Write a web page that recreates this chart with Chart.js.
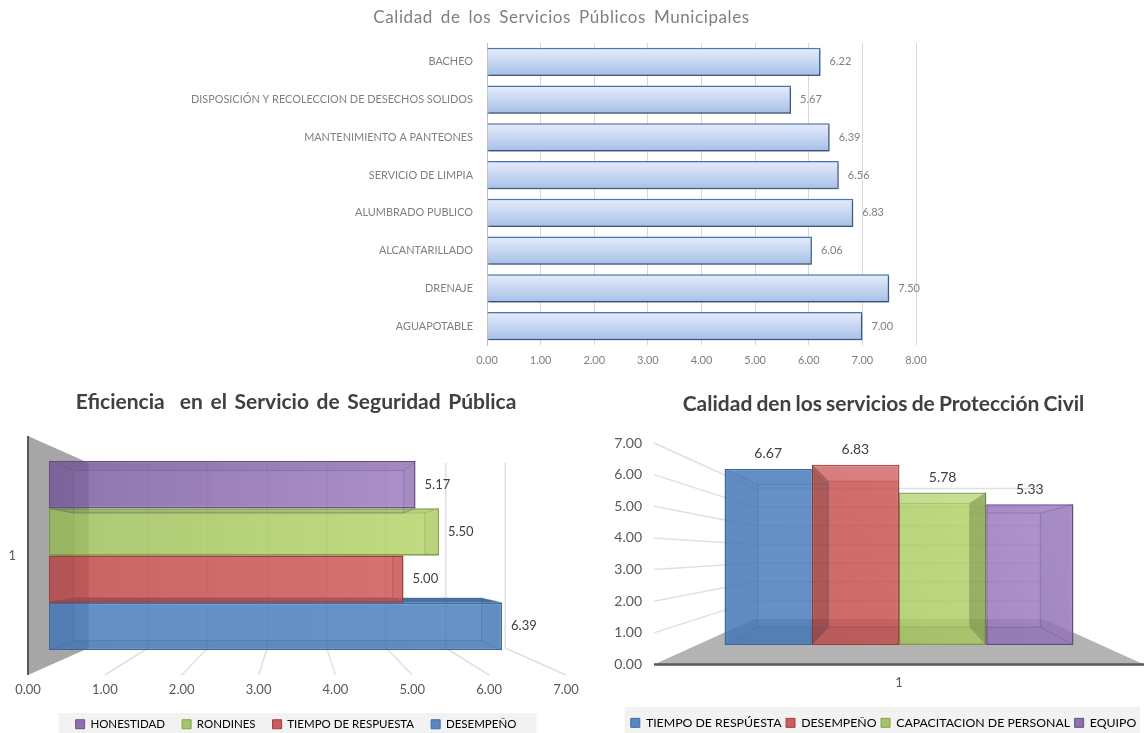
<!DOCTYPE html>
<html lang="es">
<head>
<meta charset="utf-8">
<title>Calidad de los Servicios</title>
<script src="https://cdn.jsdelivr.net/npm/chart.js@4"></script>
<style>
  html, body { margin: 0; height: 100%; overflow: hidden; background: #fff; }
  canvas { position: absolute; }
  #serviciosChart { left: 0; top: 0; }
  #seguridadChart { left: 0; top: 385px; }
  #proteccionChart { left: 600px; top: 385px; }
</style>
</head>
<body>
<canvas id="serviciosChart" width="1123" height="372"></canvas>
<canvas id="seguridadChart" width="592" height="355"></canvas>
<canvas id="proteccionChart" width="567" height="354"></canvas>
<script>
const servicios_labels = ['BACHEO', 'DISPOSICIÓN Y RECOLECCION DE DESECHOS SOLIDOS', 'MANTENIMIENTO A PANTEONES', 'SERVICIO DE LIMPIA', 'ALUMBRADO PUBLICO', 'ALCANTARILLADO', 'DRENAJE', 'AGUAPOTABLE'];
const servicios_data = [6.22, 5.67, 6.39, 6.56, 6.83, 6.06, 7.50, 7.00];

const seguridad_category = ['1'];
const seguridad_series = ['HONESTIDAD', 'RONDINES', 'TIEMPO DE RESPUESTA', 'DESEMPEÑO'];
const seguridad_data = [5.17, 5.50, 5.00, 6.39];

const proteccion_category = ['1'];
const proteccion_series = ['TIEMPO DE RESPÚESTA', 'DESEMPEÑO', 'CAPACITACION DE PERSONAL', 'EQUIPO'];
const proteccion_data = [6.67, 6.83, 5.78, 5.33];

const FONT = 'Lato, "Open Sans", sans-serif';
Chart.defaults.font.family = FONT;
Chart.defaults.animation = false;
Chart.defaults.responsive = false;

// [left colour, right colour, border, legend swatch]
const BLUE = ['rgba(72,124,188,0.85)', 'rgba(76,128,192,0.85)', '#3b6ba5', '#5b87c0'];
const RED = ['rgba(188,73,73,0.85)', 'rgba(214,96,94,0.85)', '#a83c3c', '#c85f5f'];
const GREEN = ['rgba(155,190,90,0.85)', 'rgba(190,220,113,0.85)', '#83a34e', '#a3c46a'];
const PURPLE = ['rgba(120,90,155,0.85)', 'rgba(173,138,208,0.85)', '#67508c', '#8d70ac'];

function sideGradient(c, colors, vertical) {
    const area = c.chart.chartArea;
    if (!area) return colors[0];
    const g = vertical
        ? c.chart.ctx.createLinearGradient(area.left, area.bottom, area.right, area.top)
        : c.chart.ctx.createLinearGradient(area.left, 0, area.right, 0);
    g.addColorStop(0, colors[0]);
    g.addColorStop(1, colors[1]);
    return g;
}

// keeps the space right of the plot free so title and legend stay centred on the canvas
function rightGap(width) {
    return {
        type: 'linear',
        position: 'right',
        grid: { display: false },
        border: { display: false },
        ticks: { display: false },
        afterFit(s) { s.width = width; }
    };
}

// letter and word spacing for the title only
const titleSpacing = {
    id: 'titleSpacing',
    beforeDraw(chart, args, opts) {
        const box = chart.titleBlock;
        if (box._spaced) return;
        box._spaced = true;
        const draw = box.draw;
        box.draw = function () {
            const ctx = chart.ctx;
            ctx.save();
            ctx.letterSpacing = opts.letter + 'px';
            ctx.wordSpacing = opts.word + 'px';
            draw.call(box);
            ctx.restore();
        };
    }
};

// value text next to each bar
const valueLabels = {
    id: 'valueLabels',
    afterDatasetsDraw(chart, args, opts) {
        const ctx = chart.ctx;
        ctx.save();
        ctx.font = opts.size + 'px ' + FONT;
        ctx.fillStyle = opts.color;
        ctx.textBaseline = 'middle';
        chart.data.datasets.forEach((ds, i) => {
            chart.getDatasetMeta(i).data.forEach((el, j) => {
                const text = ds.data[j].toFixed(2);
                if (chart.options.indexAxis === 'y') {
                    ctx.textAlign = 'left';
                    ctx.fillText(text, el.x + opts.gap, el.y);
                } else {
                    ctx.textAlign = 'center';
                    ctx.fillText(text, el.x, el.y - opts.gap);
                }
            });
        });
        ctx.restore();
    }
};

// pale band behind the legend
const legendBand = {
    id: 'legendBand',
    beforeDraw(chart, args, opts) {
        const boxes = chart.legend.legendHitBoxes;
        const left = boxes[0].left - opts.padLeft;
        const last = boxes[boxes.length - 1];
        const ctx = chart.ctx;
        ctx.save();
        ctx.fillStyle = '#f2f2f2';
        ctx.fillRect(left, opts.top, last.left + last.width + opts.padRight - left, opts.height);
        ctx.restore();
    }
};

// front, back and side faces of every bar, shrunk towards the vanishing point
const boxFaces = {
    id: 'boxFaces',
    afterDatasetDraw(chart, args, opts) {
        const a = chart.chartArea;
        const vx = (a.left + a.right) / 2;
        const vy = (a.top + a.bottom) / 2 + opts.shiftY;
        const back = (x, y) => [vx + opts.k * (x - vx), vy + opts.k * (y - vy)];
        const ds = chart.data.datasets[args.index];
        const ctx = chart.ctx;
        args.meta.data.forEach(el => {
            const horizontal = chart.options.indexAxis === 'y';
            const l = horizontal ? el.base : el.x - el.width / 2;
            const r = horizontal ? el.x : el.x + el.width / 2;
            const t = horizontal ? el.y - el.height / 2 : el.y;
            const b = horizontal ? el.y + el.height / 2 : el.base;
            const corners = [[l, t], [r, t], [r, b], [l, b]];
            const inner = corners.map(p => back(p[0], p[1]));
            const shades = [ds.faceTop, ds.faceSide, ds.faceBottom, ds.faceSide];
            ctx.save();
            corners.forEach((p, i) => {
                const n = (i + 1) % 4;
                ctx.beginPath();
                ctx.moveTo(p[0], p[1]);
                ctx.lineTo(corners[n][0], corners[n][1]);
                ctx.lineTo(inner[n][0], inner[n][1]);
                ctx.lineTo(inner[i][0], inner[i][1]);
                ctx.closePath();
                ctx.fillStyle = shades[i];
                ctx.fill();
            });
            ctx.strokeStyle = ds.borderColor;
            ctx.globalAlpha = 0.4;
            ctx.lineWidth = 1;
            ctx.beginPath();
            inner.forEach((p, i) => {
                ctx.moveTo(corners[i][0], corners[i][1]);
                ctx.lineTo(p[0], p[1]);
                ctx.lineTo(inner[(i + 1) % 4][0], inner[(i + 1) % 4][1]);
            });
            ctx.stroke();
            ctx.restore();
        });
    }
};

const barShadow = {
    id: 'barShadow',
    beforeDatasetsDraw(chart) {
        const ctx = chart.ctx;
        ctx.save();
        ctx.shadowColor = 'rgba(0,0,0,0.35)';
        ctx.shadowBlur = 2;
        ctx.shadowOffsetX = 1;
        ctx.shadowOffsetY = 1.5;
    },
    afterDatasetsDraw(chart) {
        chart.ctx.restore();
    }
};

// grey side wall and the grid lines running back from the value axis
const seguridadWall = {
    id: 'seguridadWall',
    beforeDatasetsDraw(chart) {
        const a = chart.chartArea, ctx = chart.ctx, k = 0.774;
        const vx = (a.left + a.right) / 2, vy = (a.top + a.bottom) / 2;
        const bx = x => vx + k * (x - vx), by = y => vy + k * (y - vy);
        ctx.save();
        ctx.fillStyle = '#a6a6a6';
        ctx.beginPath();
        ctx.moveTo(a.left, a.top);
        ctx.lineTo(bx(a.left), by(a.top));
        ctx.lineTo(bx(a.left), by(a.bottom));
        ctx.lineTo(a.left, a.bottom);
        ctx.closePath();
        ctx.fill();
        ctx.strokeStyle = '#595959';
        ctx.lineWidth = 2;
        ctx.beginPath();
        ctx.moveTo(a.left, a.top);
        ctx.lineTo(a.left, a.bottom);
        ctx.stroke();
        ctx.strokeStyle = '#e0e0e0';
        ctx.lineWidth = 1.5;
        chart.scales.x.ticks.forEach(t => {
            if (t.value === 0) return;
            const x = chart.scales.x.getPixelForValue(t.value);
            ctx.beginPath();
            ctx.moveTo(x, a.bottom);
            ctx.lineTo(bx(x), by(a.bottom));
            ctx.lineTo(bx(x), by(a.top));
            ctx.stroke();
        });
        ctx.restore();
    }
};

// grey floor and the grid lines running back from the value axis
const proteccionFloor = {
    id: 'proteccionFloor',
    beforeDatasetsDraw(chart) {
        const a = chart.chartArea, ctx = chart.ctx, k = 0.59;
        const vx = (a.left + a.right) / 2, vy = (a.top + a.bottom) / 2;
        const bx = x => vx + k * (x - vx), by = y => vy + k * (y - vy);
        ctx.save();
        ctx.fillStyle = '#b3b3b3';
        ctx.beginPath();
        ctx.moveTo(a.left, a.bottom);
        ctx.lineTo(a.right, a.bottom);
        ctx.lineTo(bx(a.right), by(a.bottom));
        ctx.lineTo(bx(a.left), by(a.bottom));
        ctx.closePath();
        ctx.fill();
        ctx.strokeStyle = '#595959';
        ctx.lineWidth = 2.5;
        ctx.beginPath();
        ctx.moveTo(a.left, a.bottom);
        ctx.lineTo(a.right, a.bottom);
        ctx.stroke();
        ctx.strokeStyle = '#e0e0e0';
        ctx.lineWidth = 1.5;
        chart.scales.y.ticks.forEach(t => {
            if (t.value === 0) return;
            const y = chart.scales.y.getPixelForValue(t.value);
            ctx.beginPath();
            ctx.moveTo(a.left, y);
            ctx.lineTo(bx(a.left), by(y));
            ctx.lineTo(bx(a.right), by(y));
            ctx.stroke();
        });
        ctx.restore();
    }
};

const two_decimals = v => Number(v).toFixed(2);

new Chart(document.getElementById('serviciosChart').getContext('2d'), {
    type: 'bar',
    data: {
        labels: servicios_labels,
        datasets: [{
            data: servicios_data,
            yAxisID: 'y',
            backgroundColor: c => {
                const y = c.chart.scales.y;
                if (!y || !c.chart.chartArea) return '#c6d5f0';
                const half = y.height / servicios_labels.length * 0.375;
                const mid = y.getPixelForValue(c.dataIndex);
                const g = c.chart.ctx.createLinearGradient(0, mid - half, 0, mid + half);
                g.addColorStop(0, '#e6edfa');
                g.addColorStop(1, '#a6bfe8');
                return g;
            },
            borderColor: '#4a76ae',
            borderWidth: 1.5,
            barPercentage: 1,
            categoryPercentage: 0.75
        }]
    },
    options: {
        indexAxis: 'y',
        scales: {
            x: {
                min: 0, max: 8,
                grid: { color: '#d9d9d9', drawTicks: false },
                border: { display: false },
                ticks: { stepSize: 1, callback: two_decimals, color: '#7f7f7f', font: { size: 11 }, padding: 9 },
                afterFit(s) { s.height = 27; }
            },
            y: {
                grid: { display: false, drawTicks: false },
                border: { color: '#bfbfbf' },
                ticks: { color: '#7f7f7f', font: { size: 10.9 }, padding: 14, autoSkip: false },
                afterFit(s) { s.width = 487; }
            },
            yr: rightGap(207)
        },
        plugins: {
            legend: { display: false },
            tooltip: { enabled: false },
            title: {
                display: true,
                text: 'Calidad de los Servicios Públicos Municipales',
                color: '#7f7f7f',
                font: { size: 17, weight: 'normal' },
                padding: { top: 7, bottom: 15.6 }
            },
            titleSpacing: { letter: 0.6, word: 3 },
            valueLabels: { size: 11, color: '#7f7f7f', gap: 9 }
        }
    },
    plugins: [titleSpacing, barShadow, valueLabels]
});

const seguridad_colors = [PURPLE, GREEN, RED, BLUE];
const seguridad_tops = ['rgba(0,0,0,0.05)', 'rgba(0,0,0,0.05)', 'rgba(0,0,0,0.05)', 'rgba(52,98,152,0.9)'];
new Chart(document.getElementById('seguridadChart').getContext('2d'), {
    type: 'bar',
    data: {
        labels: seguridad_category,
        datasets: seguridad_series.map((name, i) => ({
            label: name,
            data: [seguridad_data[i]],
            xAxisID: 'xb',
            yAxisID: 'y',
            backgroundColor: c => sideGradient(c, seguridad_colors[i], false),
            borderColor: seguridad_colors[i][2],
            borderWidth: 1.5,
            borderSkipped: false,
            barPercentage: 1,
            categoryPercentage: 0.79,
            faceTop: seguridad_tops[i],
            faceBottom: 'rgba(0,0,0,0.05)',
            faceSide: 'rgba(0,0,0,0.03)'
        }))
    },
    options: {
        indexAxis: 'y',
        scales: {
            x: {
                min: 0, max: 7,
                grid: { display: false, drawTicks: false },
                border: { display: false },
                ticks: { stepSize: 1, callback: two_decimals, color: '#595959', font: { size: 13 }, padding: 7 },
                afterFit(s) { s.height = s.chart.height - s.chart.legend.height - 290; }
            },
            xb: { type: 'linear', display: false, min: -0.296, max: 7.292 },
            y: {
                grid: { display: false, drawTicks: false },
                border: { display: false },
                ticks: { color: '#595959', font: { size: 13 }, padding: 12 },
                afterFit(s) { s.width = 28; }
            },
            yr: rightGap(26)
        },
        plugins: {
            tooltip: { enabled: false },
            title: {
                display: true,
                text: 'Eficiencia  en el Servicio de Seguridad Pública',
                color: '#404040',
                font: { size: 21, weight: 'bold' },
                padding: { top: 4.4, bottom: 21.4 }
            },
            titleSpacing: { letter: 0, word: 2.5 },
            legend: {
                position: 'bottom',
                labels: {
                    color: '#595959', font: { size: 11.5 }, boxWidth: 9, boxHeight: 9, padding: 17,
                    generateLabels: chart => seguridad_series.map((name, i) => ({
                        text: name, datasetIndex: i,
                        fillStyle: seguridad_colors[i][3],
                        strokeStyle: seguridad_colors[i][2],
                        lineWidth: 1
                    }))
                }
            },
            legendBand: { top: 328, height: 20, padLeft: 17, padRight: 20 },
            boxFaces: { k: 0.9, shiftY: 0 },
            valueLabels: { size: 13, color: '#404040', gap: 9 }
        }
    },
    plugins: [titleSpacing, legendBand, seguridadWall, boxFaces, valueLabels]
});

const proteccion_colors = [BLUE, RED, GREEN, PURPLE];
const proteccion_sides = ['rgba(0,0,0,0.03)', 'rgba(0,0,0,0.14)', 'rgba(0,0,0,0.18)', 'rgba(0,0,0,0.05)'];
const proteccion_tops = ['rgba(0,0,0,0.02)', 'rgba(255,255,255,0.12)', 'rgba(255,255,255,0.15)', 'rgba(0,0,0,0.02)'];
new Chart(document.getElementById('proteccionChart').getContext('2d'), {
    type: 'bar',
    data: {
        labels: proteccion_category,
        datasets: proteccion_series.map((name, i) => ({
            label: name,
            data: [proteccion_data[i]],
            xAxisID: 'x',
            yAxisID: 'yb',
            backgroundColor: c => sideGradient(c, proteccion_colors[i], true),
            borderColor: proteccion_colors[i][2],
            borderWidth: 1.5,
            borderSkipped: false,
            barPercentage: 1,
            categoryPercentage: 0.712,
            faceTop: proteccion_tops[i],
            faceBottom: 'rgba(0,0,0,0.04)',
            faceSide: proteccion_sides[i]
        }))
    },
    options: {
        scales: {
            x: {
                grid: { display: false, drawTicks: false },
                border: { display: false },
                ticks: { color: '#595959', font: { size: 13 }, padding: 10.5 },
                afterFit(s) { s.height = s.chart.height - s.chart.legend.height - 279.5; }
            },
            y: {
                min: 0, max: 7,
                grid: { display: false, drawTicks: false },
                border: { display: false },
                ticks: { stepSize: 1, callback: two_decimals, color: '#595959', font: { size: 14 }, padding: 12 },
                afterFit(s) { s.width = 54; }
            },
            yb: { type: 'linear', display: false, min: -0.739, max: 7.651 },
            yr: rightGap(23)
        },
        plugins: {
            tooltip: { enabled: false },
            title: {
                display: true,
                text: 'Calidad den los servicios de Protección Civil',
                color: '#404040',
                font: { size: 21, weight: 'bold' },
                padding: { top: 6.4, bottom: 26.4 }
            },
            titleSpacing: { letter: 0, word: -1 },
            legend: {
                position: 'bottom',
                labels: {
                    color: '#595959', font: { size: 12.3 }, boxWidth: 9, boxHeight: 9, padding: 4.5,
                    generateLabels: chart => proteccion_series.map((name, i) => ({
                        text: name, datasetIndex: i,
                        fillStyle: proteccion_colors[i][3],
                        strokeStyle: proteccion_colors[i][2],
                        lineWidth: 1
                    }))
                }
            },
            legendBand: { top: 322, height: 26, padLeft: 6, padRight: 4 },
            boxFaces: { k: 0.81, shiftY: -3 },
            valueLabels: { size: 14, color: '#404040', gap: 15 }
        }
    },
    plugins: [titleSpacing, legendBand, proteccionFloor, boxFaces, valueLabels]
});
</script>
</body>
</html>
